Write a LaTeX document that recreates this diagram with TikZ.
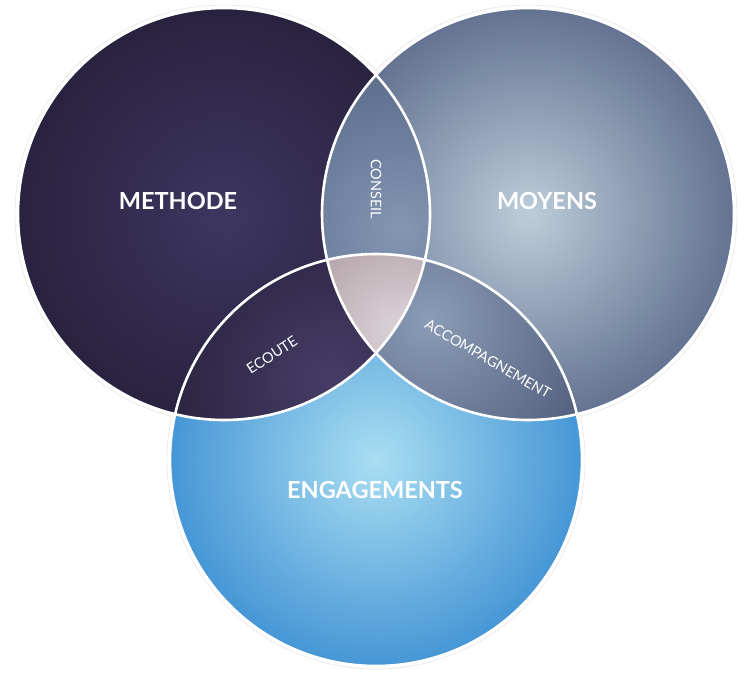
\documentclass[tikz,border=0pt]{standalone}
\usepackage{fontspec}
\setmainfont{Lato}
\definecolor{methodeIn}{HTML}{3D3660}
\definecolor{methodeOut}{HTML}{29223F}
\definecolor{moyensIn}{HTML}{BCCDDA}
\definecolor{moyensOut}{HTML}{5A6A8A}
\definecolor{engageIn}{HTML}{A9DEF2}
\definecolor{engageOut}{HTML}{4696D6}
\definecolor{conseilIn}{HTML}{8396B2}
\definecolor{conseilOut}{HTML}{5D6D8C}
\definecolor{ecouteIn}{HTML}{463D67}
\definecolor{ecouteOut}{HTML}{28213C}
\definecolor{accompIn}{HTML}{8B9CB6}
\definecolor{accompOut}{HTML}{4A5877}
\definecolor{centreIn}{HTML}{DCD4DA}
\definecolor{centreOut}{HTML}{B3A3A8}
\tikzset{
    bigtext/.style={text=white, font=\fontsize{23.5}{28}\selectfont\bfseries},
    smalltext/.style={text=white, font=\fontsize{14.5}{17}\selectfont},
    border/.style={draw=white, line width=2.6pt},
    halo/.style={draw=black!8, line width=0.8pt}
}
\begin{document}
\begin{tikzpicture}[x=1pt, y=-1pt]
    \useasboundingbox (0,0) rectangle (750,678);
    \def\rad{206pt}

    % Centres
    \coordinate (cMeth) at (224,214);
    \coordinate (cMoy) at (528,214);
    \coordinate (cEng) at (376,460);

    % Faint outer rings
    \draw[halo] (cMeth) circle (209pt);
    \draw[halo] (cMoy) circle (209pt);
    \draw[halo] (cEng) circle (209pt);

    % Circles
    \fill[inner color=methodeIn, outer color=methodeOut] (cMeth) circle (\rad);
    \begin{scope}
        \clip (cMoy) circle (\rad);
        \fill[inner color=moyensIn, outer color=moyensOut] (cMoy) circle (226pt);
    \end{scope}
    \fill[inner color=engageIn, outer color=engageOut] (cEng) circle (\rad);

    % Methode + Moyens
    \begin{scope}
        \clip (cMeth) circle (\rad);
        \clip (cMoy) circle (\rad);
        \fill[inner color=conseilIn, outer color=conseilOut] (400,230) circle (160pt);
    \end{scope}

    % Methode + Engagements
    \begin{scope}
        \clip (cMeth) circle (\rad);
        \clip (cEng) circle (\rad);
        \fill[inner color=ecouteIn, outer color=ecouteOut] (330,380) circle (180pt);
    \end{scope}

    % Moyens + Engagements
    \begin{scope}
        \clip (cMoy) circle (\rad);
        \clip (cEng) circle (\rad);
        \fill[inner color=accompIn, outer color=accompOut] (430,320) circle (200pt);
    \end{scope}

    % All three
    \begin{scope}
        \clip (cMeth) circle (\rad);
        \clip (cMoy) circle (\rad);
        \clip (cEng) circle (\rad);
        \fill[inner color=centreIn, outer color=centreOut] (400,330) circle (110pt);
    \end{scope}

    % White borders
    \draw[border] (cMeth) circle (\rad);
    \draw[border] (cMoy) circle (\rad);
    \draw[border] (cEng) circle (\rad);

    % Labels
    \node (methode) [bigtext] at (178,201) {METHODE};
    \node (moyens) [bigtext] at (547,201) {MOYENS};
    \node (engage) [bigtext] at (375,490) {ENGAGEMENTS};
    \node (conseil) [smalltext, rotate=-90] at (376,189) {CONSEIL};
    \node (ecoute) [smalltext, rotate=33] at (272,355) {ECOUTE};
    \node (accomp) [smalltext, rotate=-30] at (488,359) {ACCOMPAGNEMENT};
\end{tikzpicture}
\end{document}
